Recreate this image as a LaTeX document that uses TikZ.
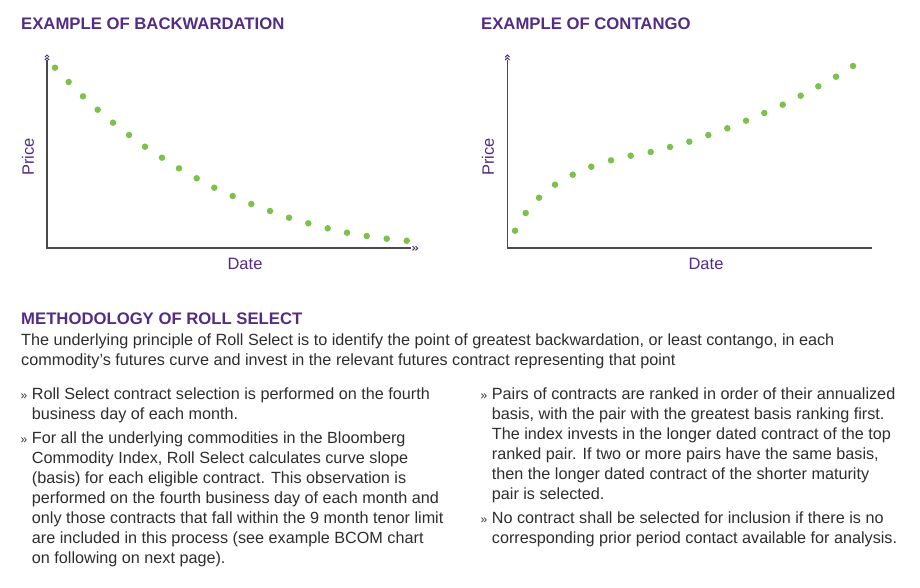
\documentclass[tikz,border=0pt]{standalone}
\usepackage{fontspec}
\setmainfont{Liberation Sans}
\definecolor{ttlpurple}{HTML}{532D85}
\definecolor{bodygray}{HTML}{2E2E2E}
\definecolor{dotgreen}{HTML}{7DC04B}
\definecolor{axisgray}{HTML}{4A4A4A}
\newcommand{\blt}{\llap{{\fontsize{12}{12}\selectfont »}\hspace{4.5pt}}}
\begin{document}
\begin{tikzpicture}[x=1pt,y=-1pt,
 dot/.style={circle,fill=dotgreen,inner sep=0pt,minimum size=6.5pt},
 axisline/.style={draw=axisgray,line width=1.6pt},
 chev/.style={draw=ttlpurple,line width=1pt},
 ttl/.style={anchor=base west,inner sep=0pt,text=ttlpurple,font=\fontsize{16.7}{20}\selectfont\bfseries},
 axlbl/.style={inner sep=0pt,text=ttlpurple,font=\fontsize{16.5}{20}\selectfont},
 body/.style={anchor=north west,inner sep=0pt,text=bodygray,align=left,font=\fontsize{16.2}{20}\selectfont},
]
\useasboundingbox[fill=white] (0,0) rectangle (920,587);

% titles
\node[ttl] (t1) at (21,29) {EXAMPLE OF BACKWARDATION};
\node[ttl] (t2) at (481,29) {EXAMPLE OF CONTANGO};

% left chart axes
\coordinate (yt1) at (47,60);
\coordinate (o1) at (47,248);
\coordinate (xe1) at (411,248);
\draw[axisline] (yt1) -- (o1) -- (xe1);
\draw[chev] (44.8,57.2) -- (47,55) -- (49.2,57.2) (44.8,60) -- (47,57.8) -- (49.2,60);
\draw[chev] (412.5,246) -- (414.7,248.2) -- (412.5,250.4) (415.5,246) -- (417.7,248.2) -- (415.5,250.4);

% right chart axes
\coordinate (yt2) at (507.3,60);
\coordinate (o2) at (507.3,248);
\coordinate (xe2) at (872,248);
\draw[axisline] (yt2) -- (o2) -- (xe2);
\draw[chev] (505.1,57.2) -- (507.3,55) -- (509.5,57.2) (505.1,60) -- (507.3,57.8) -- (509.5,60);

% axis labels
\node[axlbl,rotate=90] (p1) at (28,157) {Price};
\node[axlbl] (d1) at (245,264) {Date};
\node[axlbl,rotate=90] (p2) at (488,157) {Price};
\node[axlbl] (d2) at (706,264) {Date};

% backwardation dots
\foreach \x/\y [count=\i] in {55/67.7,68.7/82,83/96.3,97.7/109.7,113/122.7,129/135,145/146.7,162/157.7,179/168.3,196.7/178.3,214.3/187.7,232.7/196,251.3/204,270/211,289/217.7,308.3/223.3,327.7/228.3,347/232.7,366.7/236,386.7/238.7,406.7/240.7}
  \node[dot] (bk\i) at (\x,\y) {};

% contango dots
\foreach \x/\y [count=\i] in {515/230.7,525.7/213,539/197.7,555/184.7,572.7/174.7,591.3/166.7,611/160.3,630.7/155.7,650.7/152,670/147,689.3/141.7,708.3/135,727.3/128.3,746/120.7,764.3/113,782.7/104.7,800.7/95.7,818.3/86.3,836/76.7,853/66}
  \node[dot] (ct\i) at (\x,\y) {};

% methodology
\node[ttl] (t3) at (21,324.5) {METHODOLOGY OF ROLL SELECT};
\node[body] (intro) at (21,330.8) {\strut The underlying principle of Roll Select is to identify the point of greatest backwardation, or least contango, in each\\commodity’s futures curve and invest in the relevant futures contract representing that point};

\node[body] (b1) at (31.7,385.5) {\blt\strut Roll Select contract selection is performed on the fourth\\business day of each month.};
\node[body] (b2) at (31.7,429.2) {\blt\strut For all the underlying commodities in the Bloomberg\\Commodity Index, Roll Select calculates curve slope\\(basis) for each eligible contract. This observation is\\performed on the fourth business day of each month and\\only those contracts that fall within the 9 month tenor limit\\are included in this process (see example BCOM chart\\on following on next page).};
\node[body] (b3) at (491.7,385.5) {\blt\strut Pairs of contracts are ranked in order of their annualized\\basis, with the pair with the greatest basis ranking first.\\The index invests in the longer dated contract of the top\\ranked pair. If two or more pairs have the same basis,\\then the longer dated contract of the shorter maturity\\pair is selected.};
\node[body] (b4) at (491.7,509.2) {\blt\strut No contract shall be selected for inclusion if there is no\\corresponding prior period contact available for analysis.};
\end{tikzpicture}
\end{document}
